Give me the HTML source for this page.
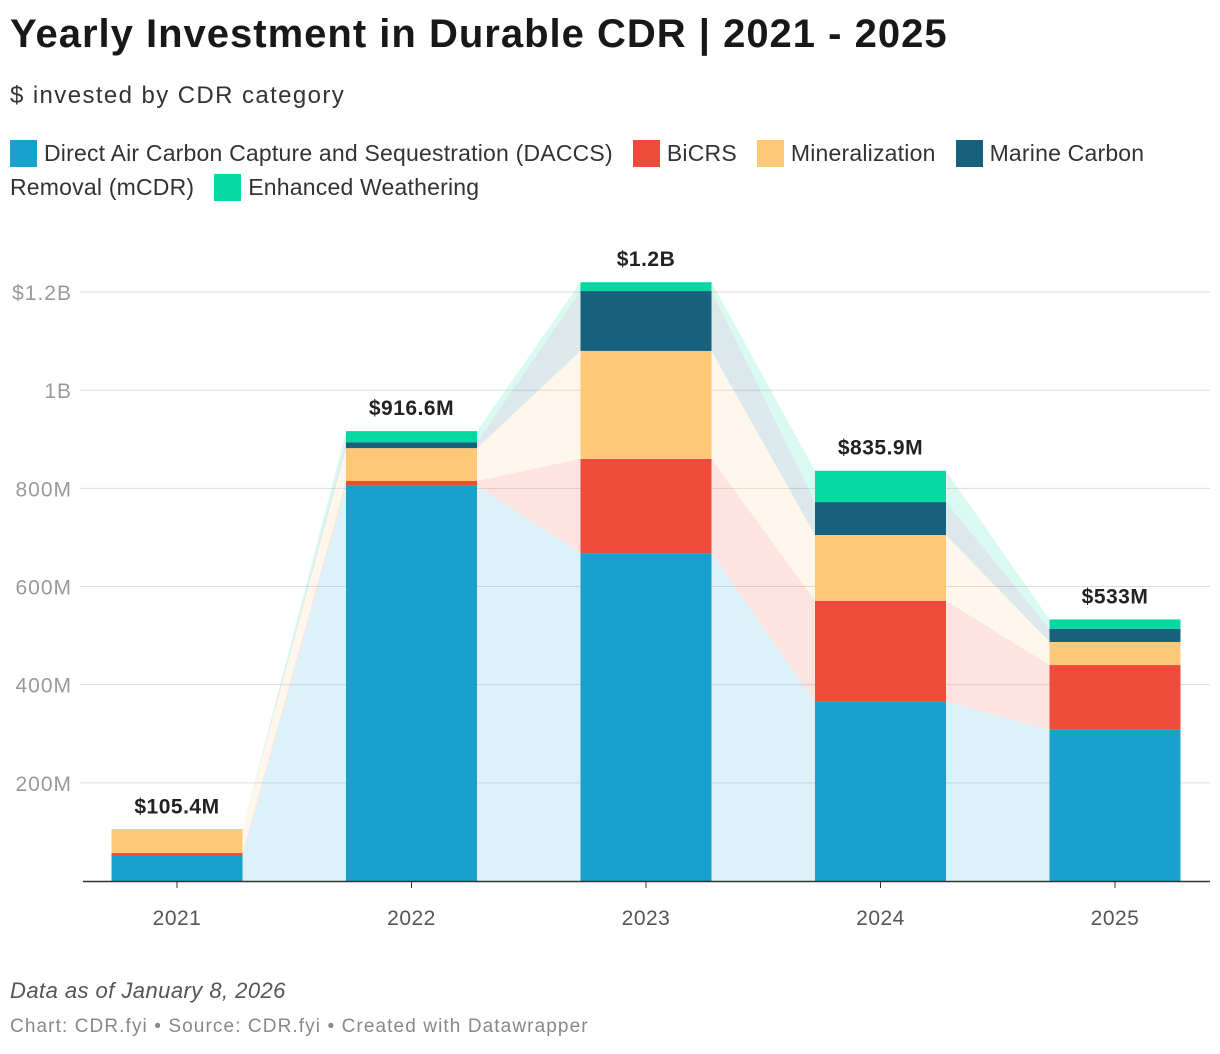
<!DOCTYPE html>
<html><head><meta charset="utf-8"><style>
body{margin:0;background:#fff;width:1220px;height:1054px;overflow:hidden;font-family:"Liberation Sans",sans-serif;color:#181818}
.title{position:absolute;left:10px;top:12px;font-size:40px;font-weight:bold;letter-spacing:1px}
.sub{position:absolute;left:10px;top:82px;font-size:24px;color:#333;letter-spacing:1.4px}
.legend{position:absolute;left:10px;top:136px;width:1180px;font-size:23px;line-height:34px;color:#333;letter-spacing:0.2px}
.sw{display:inline-block;width:27px;height:27px;vertical-align:-6px;margin-right:7px}
.sp{display:inline-block;width:20px}
.f1{position:absolute;left:10px;top:978px;font-size:22px;font-style:italic;color:#555;letter-spacing:0.45px}
.f2{position:absolute;left:10px;top:1016px;font-size:19px;color:#888;letter-spacing:1.1px}
svg{position:absolute;left:0;top:0}
</style></head><body>
<div class="title">Yearly Investment in Durable CDR | 2021 - 2025</div>
<div class="sub">$ invested by CDR category</div>
<div class="legend">
<span><span class="sw" style="background:#19a1cd"></span>Direct Air Carbon Capture and Sequestration (DACCS)</span><span class="sp"></span><span><span class="sw" style="background:#ef4b3c"></span>BiCRS</span><span class="sp"></span><span><span class="sw" style="background:#fdc978"></span>Mineralization</span><span class="sp"></span><span><span class="sw" style="background:#16627d"></span>Marine Carbon Removal (mCDR)</span><span class="sp"></span><span><span class="sw" style="background:#04d9a1"></span>Enhanced Weathering</span>
</div>
<svg id="chart" width="1220" height="1054"></svg>
<div class="f1">Data as of January 8, 2026</div>
<div class="f2">Chart: CDR.fyi • Source: CDR.fyi • Created with Datawrapper</div>
<script>
const years=["2021","2022","2023","2024","2025"];
const daccs=[51,805,668,365,308];
const bicrs=[6,10,192,206,132];
const mineral=[48,67,220,134,47];
const mcdr=[0,12,122,67,27];
const weathering=[0.4,22.6,18,63.9,19];
const totalLabels=["$105.4M","$916.6M","$1.2B","$835.9M","$533M"];
const yTicks=[200,400,600,800,1000,1200];
const yTickLabels=["200M","400M","600M","800M","1B","$1.2B"];
const series=[daccs,bicrs,mineral,mcdr,weathering];
const colors=["#19a1cd","#ef4b3c","#fdc978","#16627d","#04d9a1"];
const names=["daccs","bicrs","mineralization","mcdr","enhanced-weathering"];
const svg=document.getElementById('chart');const NS="http://www.w3.org/2000/svg";
const y=v=>881-v*0.4908;
const xc=i=>177+i*234.5;const bw=131;
function mk(t,a){const e=document.createElementNS(NS,t);for(const k in a)e.setAttribute(k,a[k]);svg.appendChild(e);return e;}
yTicks.forEach((t,i)=>{
 const g=mk('line',{x1:80,x2:1210,y1:y(t),y2:y(t),stroke:'#ddd','stroke-width':1});
 
 
 const tx=mk('text',{x:72,y:y(t)+8,'text-anchor':'end','font-size':21,fill:'#999','font-family':'Liberation Sans','letter-spacing':1});
 tx.textContent=yTickLabels[i];
 
 
});
for(let i=0;i<years.length-1;i++){
 let b0=0,b1=0;
 series.forEach((s,k)=>{
  const t0=b0+s[i],t1=b1+s[i+1];
  const x0=xc(i)+bw/2,x1=xc(i+1)-bw/2;
  const p=mk('polygon',{points:`${x0},${y(b0)} ${x0},${y(t0)} ${x1},${y(t1)} ${x1},${y(b1)}`,fill:colors[k],'fill-opacity':0.15});
  
  
  b0=t0;b1=t1;
 });
}
years.forEach((yr,i)=>{
 let b=0;
 series.forEach((s,k)=>{
  const r=mk('rect',{x:xc(i)-bw/2,y:y(b+s[i]),width:bw,height:s[i]*0.4908,fill:colors[k]});
  
  
  b+=s[i];
 });
 const v=mk('text',{x:xc(i),y:y(b)-16,'text-anchor':'middle','font-size':21,'font-weight':'bold',fill:'#222','font-family':'Liberation Sans','letter-spacing':0.5});
 v.textContent=totalLabels[i];
 
 
 const tk=mk('line',{x1:xc(i),x2:xc(i),y1:881,y2:888,stroke:'#333'});
 
 
 const xl=mk('text',{x:xc(i),y:925,'text-anchor':'middle','font-size':21,fill:'#555','font-family':'Liberation Sans','letter-spacing':0.5});
 xl.textContent=yr;
 
 
});
const ax=mk('line',{x1:83,x2:1210,y1:881.5,y2:881.5,stroke:'#333','stroke-width':1.5});


</script>
</body></html>
